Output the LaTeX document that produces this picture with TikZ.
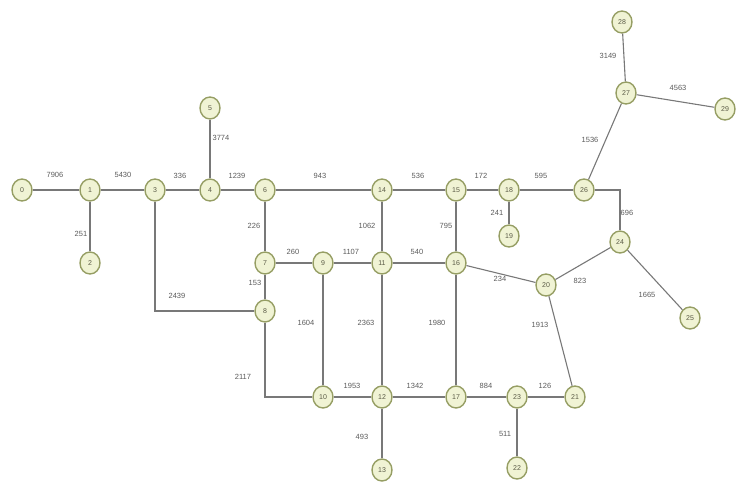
\documentclass[tikz,border=0pt]{standalone}
\usepackage{fontspec}
\setmainfont{Liberation Sans}
\usetikzlibrary{shapes.geometric}
\definecolor{vborder}{RGB}{150,158,100}
\definecolor{vfill}{RGB}{240,243,212}
\definecolor{vtext}{RGB}{90,90,70}
\definecolor{ecol}{RGB}{120,120,120}
\definecolor{ltext}{RGB}{90,90,90}
\begin{document}
\begin{tikzpicture}[x=1pt,y=-1pt,
  vtx/.style={ellipse,draw=vborder,line width=1.4pt,fill=vfill,
    minimum width=20pt,minimum height=22pt,inner sep=0pt,font=\fontsize{7}{8}\selectfont,text=vtext},
  edge/.style={draw=ecol,line width=1.1pt},
  wl/.style={font=\fontsize{7.5}{8}\selectfont,text=ltext,inner sep=0pt}]
\useasboundingbox (0,0) rectangle (737,485);
% nodes
\node[vtx] (n0) at (22,190) {0};
\node[vtx] (n1) at (90,190) {1};
\node[vtx] (n2) at (90,263) {2};
\node[vtx] (n3) at (155,190) {3};
\node[vtx] (n4) at (210,190) {4};
\node[vtx] (n5) at (210,108) {5};
\node[vtx] (n6) at (265,190) {6};
\node[vtx] (n7) at (265,263) {7};
\node[vtx] (n8) at (265,311) {8};
\node[vtx] (n9) at (323,263) {9};
\node[vtx] (n10) at (323,397) {10};
\node[vtx] (n11) at (382,263) {11};
\node[vtx] (n12) at (382,397) {12};
\node[vtx] (n13) at (382,470) {13};
\node[vtx] (n14) at (382,190) {14};
\node[vtx] (n15) at (456,190) {15};
\node[vtx] (n16) at (456,263) {16};
\node[vtx] (n17) at (456,397) {17};
\node[vtx] (n18) at (509,190) {18};
\node[vtx] (n19) at (509,236) {19};
\node[vtx] (n20) at (546,285) {20};
\node[vtx] (n21) at (575,397) {21};
\node[vtx] (n22) at (517,468) {22};
\node[vtx] (n23) at (517,397) {23};
\node[vtx] (n24) at (620,242) {24};
\node[vtx] (n25) at (690,318) {25};
\node[vtx] (n26) at (584,190) {26};
\node[vtx] (n27) at (626,93) {27};
\node[vtx] (n28) at (622,22) {28};
\node[vtx] (n29) at (725,109) {29};
\coordinate (c3) at (155,311);
\coordinate (c8) at (265,397);
\coordinate (c26) at (620,190);
% edges
\draw[edge] (n0) -- (n1);
\draw[edge] (n1) -- (n3);
\draw[edge] (n1) -- (n2);
\draw[edge] (n3) -- (n4);
\draw[edge] (n4) -- (n5);
\draw[edge] (n4) -- (n6);
\draw[edge] (n6) -- (n14);
\draw[edge] (n14) -- (n15);
\draw[edge] (n15) -- (n18);
\draw[edge] (n18) -- (n26);
\draw[edge] (n18) -- (n19);
\draw[edge] (n6) -- (n7);
\draw[edge] (n7) -- (n9);
\draw[edge] (n9) -- (n11);
\draw[edge] (n11) -- (n14);
\draw[edge] (n11) -- (n16);
\draw[edge] (n15) -- (n16);
\draw[edge] (n16) -- (n20);
\draw[edge] (n20) -- (n24);
\draw[edge] (n26) -- (c26) -- (n24);
\draw[edge] (n26) -- (n27);
\draw[edge] (n27) -- (n28);
\draw[edge] (n27) -- (n29);
\draw[edge] (n24) -- (n25);
\draw[edge] (n20) -- (n21);
\draw[edge] (n3) -- (c3) -- (n8);
\draw[edge] (n7) -- (n8);
\draw[edge] (n8) -- (c8) -- (n10);
\draw[edge] (n9) -- (n10);
\draw[edge] (n11) -- (n12);
\draw[edge] (n10) -- (n12);
\draw[edge] (n12) -- (n17);
\draw[edge] (n12) -- (n13);
\draw[edge] (n16) -- (n17);
\draw[edge] (n17) -- (n23);
\draw[edge] (n23) -- (n21);
\draw[edge] (n23) -- (n22);
% labels
\node[wl] (l1) at (55,175) {7906};
\node[wl] (l2) at (123,175) {5430};
\node[wl] (l3) at (81,234) {251};
\node[wl] (l4) at (180,176) {336};
\node[wl] (l5) at (221,138) {3774};
\node[wl] (l6) at (237,176) {1239};
\node[wl] (l7) at (320,176) {943};
\node[wl] (l8) at (418,176) {536};
\node[wl] (l9) at (481,176) {172};
\node[wl] (l10) at (541,176) {595};
\node[wl] (l11) at (497,213) {241};
\node[wl] (l12) at (254,226) {226};
\node[wl] (l13) at (293,252) {260};
\node[wl] (l14) at (351,252) {1107};
\node[wl] (l15) at (367,226) {1062};
\node[wl] (l16) at (417,252) {540};
\node[wl] (l17) at (446,226) {795};
\node[wl] (l18) at (500,279) {234};
\node[wl] (l19) at (580,281) {823};
\node[wl] (l20) at (627,213) {696};
\node[wl] (l21) at (590,140) {1536};
\node[wl] (l22) at (608,56) {3149};
\node[wl] (l23) at (678,88) {4563};
\node[wl] (l24) at (647,295) {1665};
\node[wl] (l25) at (540,325) {1913};
\node[wl] (l26) at (177,296) {2439};
\node[wl] (l27) at (255,283) {153};
\node[wl] (l28) at (243,377) {2117};
\node[wl] (l29) at (306,323) {1604};
\node[wl] (l30) at (366,323) {2363};
\node[wl] (l31) at (352,386) {1953};
\node[wl] (l32) at (415,386) {1342};
\node[wl] (l33) at (362,437) {493};
\node[wl] (l34) at (437,323) {1980};
\node[wl] (l35) at (486,386) {884};
\node[wl] (l36) at (545,386) {126};
\node[wl] (l37) at (505,434) {511};
\end{tikzpicture}
\end{document}
